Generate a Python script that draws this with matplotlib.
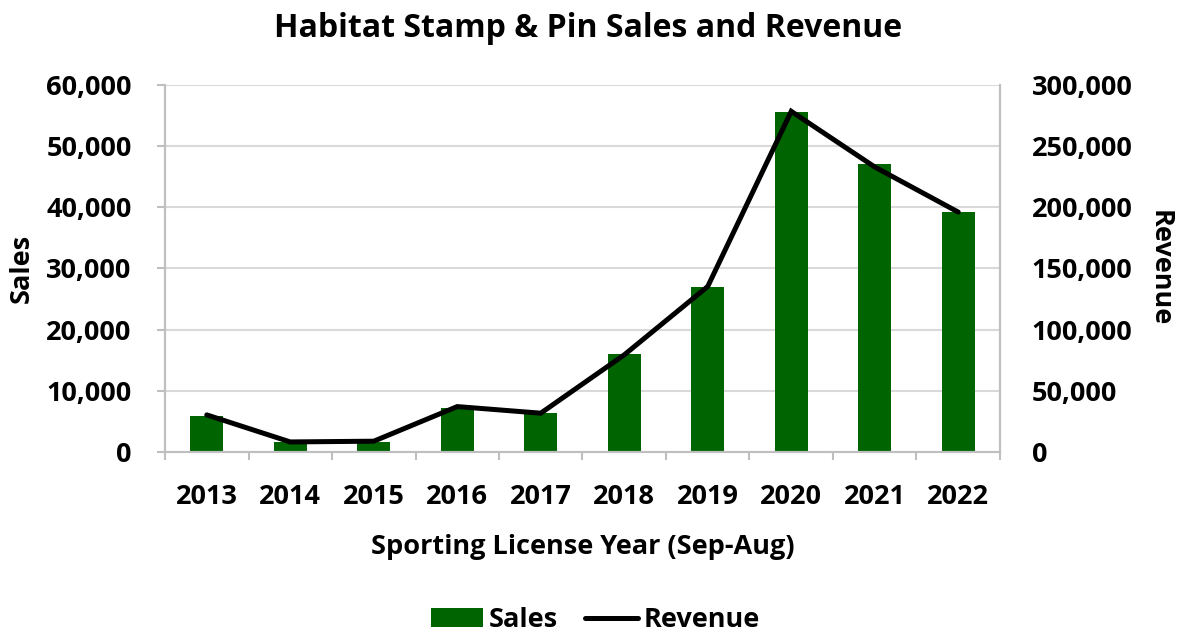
import numpy as np
import matplotlib.pyplot as plt
from matplotlib.ticker import FuncFormatter, FixedLocator

plt.rcParams['font.family'] = ['Open Sans', 'DejaVu Sans']
plt.rcParams['font.weight'] = 'bold'

years = ['2013', '2014', '2015', '2016', '2017', '2018', '2019', '2020', '2021', '2022']
sales = [5950, 1700, 1700, 7250, 6300, 16000, 27000, 55600, 47100, 39250]
revenue = [30300, 8200, 8800, 37100, 31700, 79400, 135300, 278500, 233000, 196100]

green = '#006400'
grid_c = '#d9d9d9'
spine_c = '#bfbfbf'
fs = 19.5

fig = plt.figure(figsize=(11.77, 6.33), dpi=100)
ax = fig.add_axes([0.1402, 0.286, 0.7094, 0.5797])
ax2 = ax.twinx()

x = np.arange(len(years))
bars = ax.bar(x, sales, width=0.4, color=green, label='Sales', zorder=2)
line, = ax2.plot(x, revenue, color='black', lw=3.6, label='Revenue',
                 solid_capstyle='round', solid_joinstyle='miter')

ax.set_xlim(-0.5, len(years) - 0.5)
ax.set_ylim(0, 60000)
ax2.set_ylim(0, 300000)
ax.set_yticks(np.arange(0, 60001, 10000))
ax2.set_yticks(np.arange(0, 300001, 50000))
fmt = FuncFormatter(lambda v, p: f'{int(v):,}')
ax.yaxis.set_major_formatter(fmt)
ax2.yaxis.set_major_formatter(fmt)

ax.set_xticks(x)
ax.set_xticklabels(years)
ax.xaxis.set_minor_locator(FixedLocator(np.arange(-0.5, len(years), 1.0)))
ax.tick_params(axis='x', which='major', length=0, pad=23, labelsize=fs)
ax.tick_params(axis='x', which='minor', length=6, color=spine_c, width=1.5)
ax.tick_params(axis='y', length=6, color=spine_c, width=1.5, labelsize=fs, pad=18)
ax2.tick_params(axis='y', length=0, labelsize=fs, pad=23)

ax.grid(axis='y', color=grid_c, lw=1.5, zorder=0)
ax.set_axisbelow(True)
for a in (ax, ax2):
    for s in a.spines.values():
        s.set_color(spine_c)
        s.set_linewidth(1.5)
    a.spines['top'].set_visible(False)
ax.spines['bottom'].set_color(grid_c)

ax.set_xlabel('Sporting License Year (Sep-Aug)', fontsize=fs, fontweight='bold', labelpad=17)
ax.set_ylabel('Sales', fontsize=fs, fontweight='bold', labelpad=8)
ax2.set_ylabel('Revenue', fontsize=fs, fontweight='bold', rotation=270, va='bottom', labelpad=10)

fig.text(0.5, 0.955, 'Habitat Stamp & Pin Sales and Revenue', fontsize=23,
         fontweight='bold', ha='center', va='center')

fig.legend([bars, line], ['Sales', 'Revenue'], loc='center', ncol=2,
           bbox_to_anchor=(0.5055, 0.02), frameon=False, fontsize=fs,
           handlelength=1.95, handleheight=0.7, handletextpad=0.2, columnspacing=1.0)

fig.savefig('out.png', dpi=100)
